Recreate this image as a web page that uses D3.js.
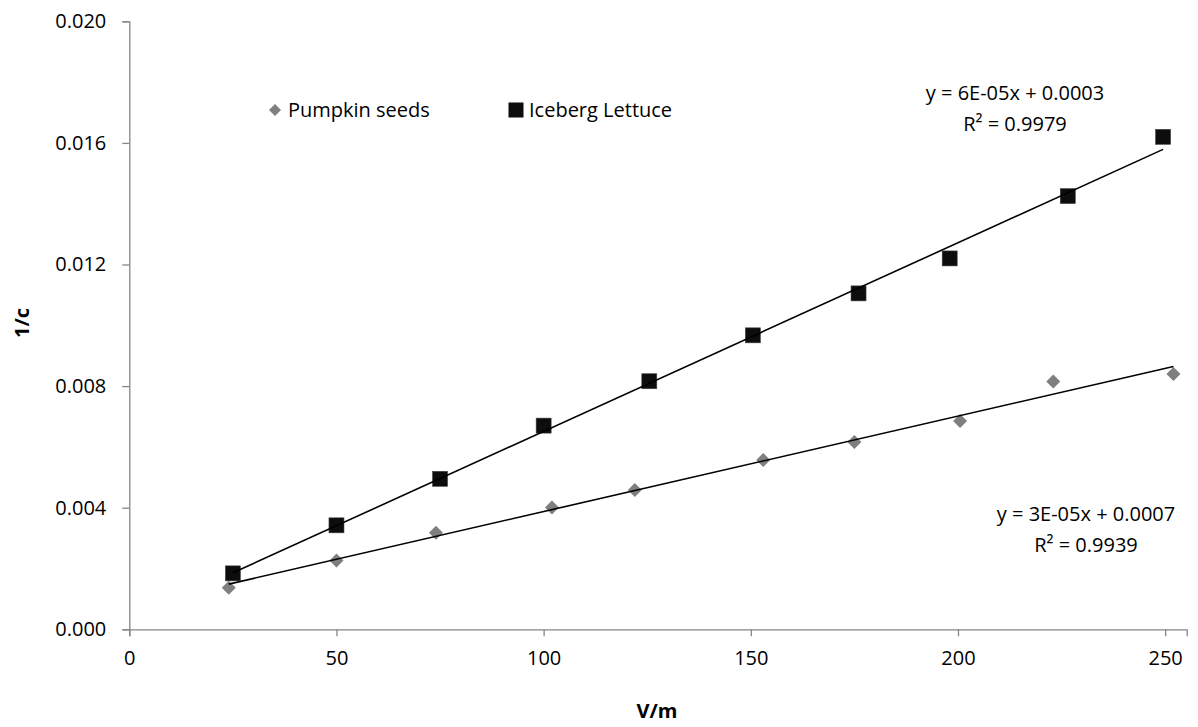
<!DOCTYPE html>
<html>
<head>
<meta charset="utf-8">
<script src="https://cdn.jsdelivr.net/npm/d3@7"></script>
<style>
  html, body { margin: 0; padding: 0; background: #fff; }
  svg { display: block; font-family: "Open Sans", Lato, sans-serif; }
</style>
</head>
<body>
<svg id="chart" width="1198" height="727"></svg>
<script>
// V/m values and 1/c readings for each sample
const pumpkinX = [24, 50, 74, 102, 122, 153, 175, 200.5, 223, 252];
const pumpkinY = [0.00137, 0.00226, 0.00318, 0.00401, 0.00458, 0.00557, 0.00616, 0.00685, 0.00815, 0.00840];
const lettuceX = [25, 50, 75, 100, 125.5, 150.5, 176, 198, 226.5, 249.5];
const lettuceY = [0.00184, 0.00342, 0.00495, 0.00670, 0.00816, 0.00967, 0.01105, 0.01220, 0.01425, 0.01620];

const seriesNames = ["Pumpkin seeds", "Iceberg Lettuce"];
const xTicks = [0, 50, 100, 150, 200, 250];
const yTicks = [0, 0.004, 0.008, 0.012, 0.016, 0.020];
const trendLabels = [
  ["y = 3E-05x + 0.0007", "R\u00b2 = 0.9939"],
  ["y = 6E-05x + 0.0003", "R\u00b2 = 0.9979"]
];

const svg = d3.select("#chart");
const plotLeft = 129.3, plotRight = 1186.7, plotTop = 21.3, plotBottom = 629.3;
const fontSize = "20px";

const x = d3.scaleLinear().domain([0, 255.2]).range([plotLeft, plotRight]);
const y = d3.scaleLinear().domain([0, 0.020]).range([plotBottom, plotTop]);

const axisColor = "#868686";

// Axes
const xAxis = svg.append("g")
  .attr("transform", `translate(0,${plotBottom})`)
  .call(d3.axisBottom(x).tickValues(xTicks).tickFormat(d3.format("d")).tickSizeOuter(0).tickSize(7).tickPadding(15));
const yAxis = svg.append("g")
  .attr("transform", `translate(${plotLeft},0)`)
  .call(d3.axisLeft(y).tickValues(yTicks).tickFormat(d3.format(".3f")).tickSizeOuter(0).tickSize(7).tickPadding(16));

[xAxis, yAxis].forEach(g => {
  g.select(".domain").attr("stroke", axisColor).attr("stroke-width", 1.3);
  g.selectAll(".tick line").attr("stroke", axisColor).attr("stroke-width", 1.3);
  g.selectAll(".tick text").attr("fill", "#000").style("font-size", fontSize)
    .style("font-family", "'Open Sans', Lato, sans-serif");
});

// Axis titles
svg.append("text")
  .attr("x", 657).attr("y", 718)
  .attr("text-anchor", "middle")
  .style("font-size", fontSize).style("font-weight", "bold")
  .text("V/m");
svg.append("text")
  .attr("transform", "translate(29,323) rotate(-90)")
  .attr("text-anchor", "middle")
  .style("font-size", fontSize).style("font-weight", "bold")
  .text("1/c");

// Least-squares fit for trendlines
function fit(xs, ys) {
  const mx = d3.mean(xs), my = d3.mean(ys);
  let sxy = 0, sxx = 0;
  xs.forEach((v, i) => { sxy += (v - mx) * (ys[i] - my); sxx += (v - mx) * (v - mx); });
  const m = sxy / sxx;
  return { m, b: my - m * mx };
}

const series = [
  { xs: pumpkinX, ys: pumpkinY, color: "#7f7f7f", shape: "diamond" },
  { xs: lettuceX, ys: lettuceY, color: "#0d0d0d", shape: "square" }
];

const line = d3.line().x(d => x(d[0])).y(d => y(d[1]));

series.forEach(s => {
  const { m, b } = fit(s.xs, s.ys);
  const x0 = d3.min(s.xs), x1 = d3.max(s.xs);
  s.trend = [[x0, m * x0 + b], [x1, m * x1 + b]];
});

// Markers
function drawMarker(g, shape, color, cx, cy) {
  if (shape === "square") {
    g.append("rect")
      .attr("x", cx - 7.5).attr("y", cy - 7.5)
      .attr("width", 15).attr("height", 15)
      .attr("fill", color).attr("stroke", "#444").attr("stroke-width", 0.6);
  } else {
    const r = 7;
    g.append("path")
      .attr("d", `M${cx},${cy - r}L${cx + r},${cy}L${cx},${cy + r}L${cx - r},${cy}Z`)
      .attr("fill", color);
  }
}

const marks = svg.append("g");
series.forEach(s => {
  s.xs.forEach((v, i) => drawMarker(marks, s.shape, s.color, x(v), y(s.ys[i])));
});

// Trendlines drawn over the markers
series.forEach(s => {
  svg.append("path")
    .attr("d", line(s.trend))
    .attr("fill", "none").attr("stroke", "#000").attr("stroke-width", 1.6);
});

// Trendline equations
const labelPos = [[1086, 521], [1015, 100]];
trendLabels.forEach((lines, i) => {
  const t = svg.append("text")
    .attr("text-anchor", "middle")
    .style("font-size", fontSize);
  lines.forEach((txt, j) => {
    t.append("tspan").attr("x", labelPos[i][0]).attr("y", labelPos[i][1] + j * 31).text(txt);
  });
});

// Legend
const legend = svg.append("g");
const legendPos = [[275, 110], [516, 110]];
seriesNames.forEach((name, i) => {
  const [lx, ly] = legendPos[i];
  if (series[i].shape === "diamond") {
    const r = 6;
    legend.append("path")
      .attr("d", `M${lx},${ly - r}L${lx + r},${ly}L${lx},${ly + r}L${lx - r},${ly}Z`)
      .attr("fill", series[i].color);
  } else {
    legend.append("rect")
      .attr("x", lx - 7.5).attr("y", ly - 7.5).attr("width", 15).attr("height", 15)
      .attr("fill", series[i].color);
  }
  legend.append("text")
    .attr("x", lx + 13).attr("y", ly + 7)
    .style("font-size", fontSize)
    .text(name);
});
</script>
</body>
</html>
